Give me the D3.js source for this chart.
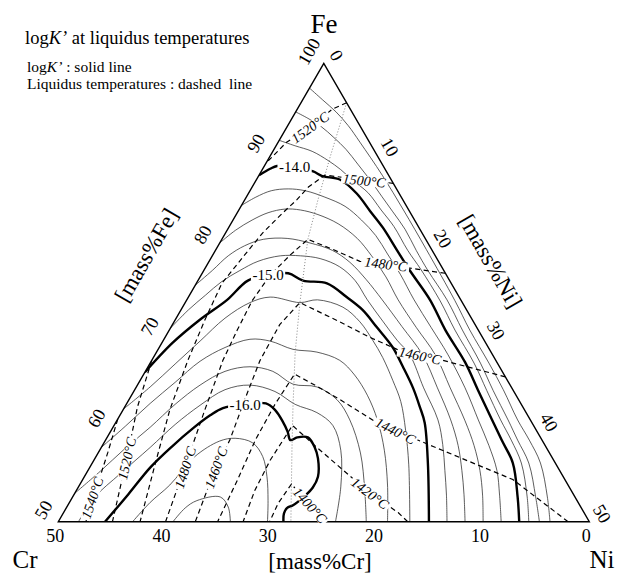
<!DOCTYPE html>
<html>
<head>
<meta charset="utf-8">
<script src="https://cdn.jsdelivr.net/npm/d3@7.9.0/dist/d3.min.js"></script>
<style>
  body { margin: 0; background: #fff; }
  svg text { font-family: "Liberation Serif", "Times New Roman", serif; fill: #000; }
</style>
</head>
<body>
<svg id="chart"></svg>
<script>
const width = 618;
const height = 576;

// every point is [mass%Cr, mass%Ni], Fe is the balance
const crTicks = [50, 40, 30, 20, 10, 0];
const feTicks = [50, 60, 70, 80, 90, 100];
const niTicks = [0, 10, 20, 30, 40, 50];

// logK' contours (thin)
const k134 = [[2.7,0],[2.1,1.9],[1.5,3.8],[1.1,5.7],[0.9,7.7],[0.6,11.6],[0.5,15.5],[0.5,19.8],[0.6,25.3],[0.8,28.3],[0.8,31.9],[0.9,34.7],[1.2,37.7],[1.2,39.9],[1.4,42.2],[2.6,44.7],[3.7,46.3]];
const k136 = [[5.3,0],[4.5,1.5],[3.7,3.2],[3.1,5.0],[2.6,6.8],[2.3,8.7],[2.0,10.7],[1.8,12.7],[1.6,14.6],[1.4,16.7],[1.5,18.9],[1.5,21.1],[1.3,24.5],[1.5,27.6],[1.6,31.1],[1.9,33.8],[2.1,36.8],[2.3,38.8],[2.5,41.1],[3.7,43.6],[4.7,45.3]];
const k138 = [[8.4,0],[7.2,1.8],[5.9,3.7],[4.9,5.7],[4.2,7.4],[3.7,9.0],[2.9,11.2],[2.6,13.4],[2.3,15.5],[2.3,18.1],[2.1,20.4],[2.0,23.9],[2.2,26.9],[2.2,30.5],[2.5,33.2],[2.8,36.1],[2.9,38.2],[3.2,40.4],[4.5,42.8],[5.7,44.3]];
const k142 = [[15.5,0],[13.7,0.9],[11.9,2.0],[10.2,3.5],[8.7,5.2],[7.2,7.4],[5.8,9.8],[5.0,12.1],[4.5,14.3],[4.4,16.4],[4.3,18.7],[4.4,21.4],[4.3,24.5],[4.2,27.6],[4.4,31.0],[4.9,34.0],[5.3,36.4],[5.9,38.5],[7.0,40.1],[8.3,41.7]];
const k144 = [[19.6,0],[17.4,0.8],[15.3,1.8],[13.4,2.9],[11.6,4.3],[10.2,5.8],[8.8,7.7],[7.4,10.1],[6.4,12.7],[6.0,15.0],[5.8,17.5],[5.9,19.9],[5.7,23.1],[5.4,26.4],[5.8,29.6],[6.2,32.8],[6.7,35.0],[7.5,36.9],[8.6,38.5],[10.0,40.0]];
const k146 = [[24.2,0],[21.8,0.8],[19.5,1.5],[17.4,2.5],[15.3,3.9],[13.0,6.1],[11.1,8.5],[9.4,11.0],[8.4,13.3],[7.8,15.8],[7.4,18.4],[7.0,21.7],[6.6,25.2],[7.0,28.4],[7.5,31.4],[8.2,33.5],[9.2,35.2],[10.3,36.7],[11.7,38.3]];
const k148 = [[28.9,0],[26.2,0.7],[23.8,1.5],[21.5,2.3],[19.2,3.4],[17.0,4.6],[14.6,6.4],[12.7,8.3],[11.0,10.3],[9.6,12.6],[8.9,14.8],[8.8,17.0],[8.5,19.7],[8.2,22.0],[7.8,24.0],[8.3,27.1],[8.7,30.2],[9.6,32.0],[10.8,33.6],[12.0,35.1],[13.4,36.6]];
const k152 = [[37.7,0],[34.0,1.3],[30.4,2.4],[26.8,3.5],[23.2,4.6],[20.0,6.1],[17.8,7.7],[15.3,10.8],[13.5,12.3],[11.5,15.1],[10.7,17.5],[10.5,19.7],[10.5,21.6],[10.8,23.8],[11.2,25.7],[12.3,27.7],[13.9,29.9],[16.9,33.1]];
const k154 = [[41.9,0],[38.5,1.1],[34.9,2.2],[31.4,3.4],[27.9,4.6],[24.8,6.2],[22.0,8.1],[20.2,10.1],[18.5,12.7],[16.4,15.1],[14.7,17.7],[14.1,19.9],[14.0,22.2],[14.4,24.5],[15.4,26.8],[17.0,29.0],[19.0,31.0]];
const k156 = [[46.9,0],[43.3,1.2],[39.7,2.3],[36.2,3.5],[32.6,4.6],[29.2,5.9],[26.1,7.5],[23.5,9.6],[21.6,12.0],[20.4,14.6],[18.3,17.0],[17.1,19.6],[17.0,21.9],[17.8,24.7],[19.4,27.1],[21.0,29.0]];
const k158 = [[48.1,1.9],[45.2,2.1],[41.6,3.2],[37.3,4.6],[33.7,5.7],[30.3,7.0],[27.1,8.5],[24.5,10.6],[22.5,13.3],[21.3,15.9],[19.7,18.4],[18.9,20.6],[19.5,22.7],[21.5,24.7],[23.9,26.1]];
const k162 = [[43.0,7.0],[40.3,7.6],[37.5,8.5],[33.6,9.3],[30.4,10.8],[28.8,12.1],[27.4,14.0],[27.2,15.7],[27.9,17.2],[29.1,18.6],[30.3,19.7]];
const k164 = [[39.2,10.8],[37.3,11.2],[35.8,11.9],[33.4,13.9],[33.2,15.2],[33.8,16.2]];

// logK' contours (bold, whole numbers)
const k140 = [[12.2,0],[10.8,0.7],[10.0,1.2],[8.4,2.9],[6.9,4.9],[6.3,6.0],[4.8,7.9],[4.0,10.2],[3.7,12.4],[3.4,14.5],[3.3,17.1],[3.2,19.4],[2.9,22.9],[3.1,26.0],[3.0,29.6],[3.3,32.3],[3.6,35.3],[3.8,37.3],[4.0,39.6],[5.4,41.9],[6.6,43.4]];
const k150 = [[33.7,0],[29.5,1.0],[25.7,2.3],[22.0,3.8],[19.0,4.7],[16.8,6.3],[14.8,8.1],[13.8,9.9],[11.7,12.3],[10.6,14.9],[9.8,17.1],[9.4,19.4],[9.0,22.0],[9.1,24.0],[9.3,26.1],[9.7,27.8],[10.1,29.1],[12.0,31.6],[15.1,34.9]];
const k160 = [[45.6,4.4],[41.9,5.1],[38.4,5.7],[35.2,6.6],[32.2,7.6],[29.9,8.5],[28.3,9.3],[26.0,11.2],[24.0,13.1],[23.5,14.3],[23.4,15.6],[23.5,16.7],[23.7,17.4],[22.9,17.9],[21.9,18.9],[21.8,20.1],[22.1,21.0],[23.1,22.0],[24.2,22.1],[25.4,21.8],[27.0,21.2],[27.7,20.8],[28.3,20.8],[28.8,21.2]];

// primary phase boundary (dotted)
const boundary = [[0,4.3],[4.5,5.7],[8.0,6.9],[11.1,8.1],[15.3,10.8],[18.5,13.1],[21.6,15.8],[24.1,18.1],[28.1,21.9]];

// liquidus isotherms (dashed)
const t1540 = [[38.8,0],[41.6,0.9],[43.7,1.5],[45.6,2.0],[47.4,2.6]];
const t1520a = [[0,4.3],[1.7,3.3],[4.8,2.2],[7.8,0.8],[10.9,0]];
const t1520b = [[32.4,0],[36.3,1.2],[40.1,3.0],[44.9,5.1]];
const t1500 = [[0,13.1],[2.5,10.2],[4.7,7.7],[6.0,6.2],[8.2,5.3],[10.0,4.9],[12.0,4.3],[15.0,3.5],[17.9,3.0],[21.6,2.4],[25.2,2.8],[29.0,3.4],[33.4,4.4],[37.8,6.0],[42.3,7.7]];
const t1480 = [[0,22.9],[3.3,19.0],[5.2,16.8],[7.4,14.2],[9.3,11.0],[11.1,8.1],[13.6,7.3],[16.6,6.5],[19.7,6.2],[22.7,6.4],[25.7,6.7],[30.1,7.7],[34.9,8.9],[39.9,10.1]];
const t1460 = [[0,34.2],[5.0,27.4],[6.8,25.0],[8.7,22.5],[10.6,19.3],[12.6,15.6],[15.3,10.8],[18.4,10.1],[22.2,10.2],[25.8,10.9],[29.4,11.7],[32.4,11.9],[37.1,12.9]];
const t1440 = [[2.0,48.0],[4.9,40.5],[10.6,31.2],[14.6,24.6],[16.8,19.9],[18.4,16.7],[19.7,14.2],[23.2,14.0],[27.0,14.1],[30.9,14.6],[35.0,15.0]];
const t1420 = [[17.1,32.9],[17.5,31.5],[19.1,27.8],[19.9,25.4],[21.6,20.3],[22.7,16.8],[26.7,16.6],[29.8,16.8],[32.6,17.4]];
const t1400 = [[24.8,25.2],[25.4,22.8],[26.0,19.9],[28.3,19.7],[30.1,19.9]];

// labels: text, Cr, Ni, rotation
const isoLabels = [
  ["1520°C", 4.8, 2.2, -36],
  ["1500°C", 2.6, 10.2, 6],
  ["1480°C", 5.1, 16.8, 7],
  ["1460°C", 6.9, 25.0, 12],
  ["1440°C", 13.3, 26.8, 27],
  ["1420°C", 19.1, 27.8, 37],
  ["1400°C", 25.4, 22.8, 48],
  ["1540°C", 45.5, 1.9, -71],
  ["1520°C", 40.1, 3.0, -77],
  ["1480°C", 35.1, 9.0, -72],
  ["1460°C", 32.2, 11.9, -70]
];
const kLabels = [["-14.0", 8.4, 2.9], ["-15.0", 16.8, 6.3], ["-16.0", 26.0, 11.2]];

const thinLines = [k134, k136, k138, k142, k144, k146, k148, k152, k154, k156, k158, k162, k164];
const boldLines = [k140, k150, k160];
const isotherms = [t1540, t1520a, t1520b, t1500, t1480, t1460, t1440, t1420, t1400];

const svg = d3.select("#chart").attr("width", width).attr("height", height);

// x follows Ni - Cr, y follows Cr + Ni (= 100 - Fe)
const xScale = d3.scaleLinear().domain([-50, 50]).range([58.3, 589.3]);
const yScale = d3.scaleLinear().domain([0, 50]).range([63.3, 521.7]);
const project = d => [xScale(d[1] - d[0]), yScale(d[0] + d[1])];

const smooth = d3.line().x(d => project(d)[0]).y(d => project(d)[1])
    .curve(d3.curveCatmullRom.alpha(0.5));
const straight = d3.line().x(d => project(d)[0]).y(d => project(d)[1]);

const corners = [[0, 0], [50, 0], [0, 50]];

svg.append("defs").append("clipPath").attr("id", "tri")
    .append("path").attr("d", straight(corners) + "Z");

const plot = svg.append("g").attr("clip-path", "url(#tri)");

plot.selectAll("path.thin").data(thinLines).enter().append("path")
    .attr("class", "thin")
    .attr("d", smooth)
    .attr("fill", "none").attr("stroke", "#333").attr("stroke-width", 0.8);

plot.selectAll("path.bold").data(boldLines).enter().append("path")
    .attr("class", "bold")
    .attr("d", smooth)
    .attr("fill", "none").attr("stroke", "#000").attr("stroke-width", 2.4);

plot.append("path")
    .attr("d", straight(boundary))
    .attr("fill", "none").attr("stroke", "#777").attr("stroke-width", 0.9)
    .attr("stroke-dasharray", "1,2");

plot.selectAll("path.iso").data(isotherms).enter().append("path")
    .attr("class", "iso")
    .attr("d", straight)
    .attr("fill", "none").attr("stroke", "#000").attr("stroke-width", 1.2)
    .attr("stroke-dasharray", "5,3.5");

// triangle frame
svg.append("path")
    .attr("d", straight(corners) + "Z")
    .attr("fill", "none").attr("stroke", "#000").attr("stroke-width", 1.4)
    .attr("stroke-linejoin", "miter");

// labels sitting in a white gap
function gapLabel(text, pos, angle, italic, size) {
  const [x, y] = project(pos);
  const g = svg.append("g").attr("transform", `translate(${x},${y}) rotate(${angle})`);
  const bg = g.append("rect").attr("fill", "#fff");
  const t = g.append("text")
      .attr("text-anchor", "middle")
      .attr("dy", "0.35em")
      .style("font-size", size + "px")
      .style("font-style", italic ? "italic" : "normal")
      .text(text);
  const bb = t.node().getBBox();
  bg.attr("x", bb.x - 1.5).attr("y", bb.y + 2.5)
    .attr("width", bb.width + 3).attr("height", bb.height - 5);
}

isoLabels.forEach(d => gapLabel(d[0], [d[1], d[2]], d[3], true, 14));
kLabels.forEach(d => gapLabel(d[0], [d[1], d[2]], 0, false, 15));

// tick labels
svg.selectAll("text.crTick").data(crTicks).enter().append("text")
    .attr("class", "crTick")
    .attr("x", d => project([d, 50 - d])[0] - 3)
    .attr("y", d => project([d, 50 - d])[1] + 20)
    .attr("text-anchor", "middle")
    .style("font-size", "18px")
    .text(d => d);

svg.selectAll("text.feTick").data(feTicks).enter().append("text")
    .attr("class", "feTick")
    .attr("transform", d => {
      const p = project([100 - d, 0]);
      return `translate(${p[0] - 15},${p[1] - 12}) rotate(-60)`;
    })
    .attr("text-anchor", "middle")
    .attr("dy", "0.35em")
    .style("font-size", "18px")
    .text(d => d);

svg.selectAll("text.niTick").data(niTicks).enter().append("text")
    .attr("class", "niTick")
    .attr("transform", d => {
      const p = project([0, d]);
      return `translate(${p[0] + 13},${p[1] - 8}) rotate(60)`;
    })
    .attr("text-anchor", "middle")
    .attr("dy", "0.35em")
    .style("font-size", "18px")
    .text(d => d);

// axis titles and corner names
svg.append("text").attr("x", 320).attr("y", 569).attr("text-anchor", "middle")
    .style("font-size", "23px").text("[mass%Cr]");
svg.append("text").attr("transform", "translate(146,255) rotate(-60)")
    .attr("text-anchor", "middle").attr("dy", "0.35em")
    .style("font-size", "23px").text("[mass%Fe]");
svg.append("text").attr("transform", "translate(491,261) rotate(60)")
    .attr("text-anchor", "middle").attr("dy", "0.35em")
    .style("font-size", "23px").text("[mass%Ni]");

svg.append("text").attr("x", 324).attr("y", 33).attr("text-anchor", "middle")
    .style("font-size", "27px").text("Fe");
svg.append("text").attr("x", 25).attr("y", 568).attr("text-anchor", "middle")
    .style("font-size", "25px").text("Cr");
svg.append("text").attr("x", 602).attr("y", 568).attr("text-anchor", "middle")
    .style("font-size", "25px").text("Ni");

// header notes
const h1 = svg.append("text").attr("x", 25).attr("y", 44).style("font-size", "18.5px");
h1.append("tspan").text("log");
h1.append("tspan").style("font-style", "italic").text("K’");
h1.append("tspan").text(" at liquidus temperatures");

const h2 = svg.append("text").attr("x", 27).attr("y", 72).style("font-size", "15.5px");
h2.append("tspan").text("log");
h2.append("tspan").style("font-style", "italic").text("K’");
h2.append("tspan").text(" : solid line");

svg.append("text").attr("x", 27).attr("y", 89).style("font-size", "15.5px")
    .style("white-space", "pre")
    .text("Liquidus temperatures : dashed  line");
</script>
</body>
</html>
